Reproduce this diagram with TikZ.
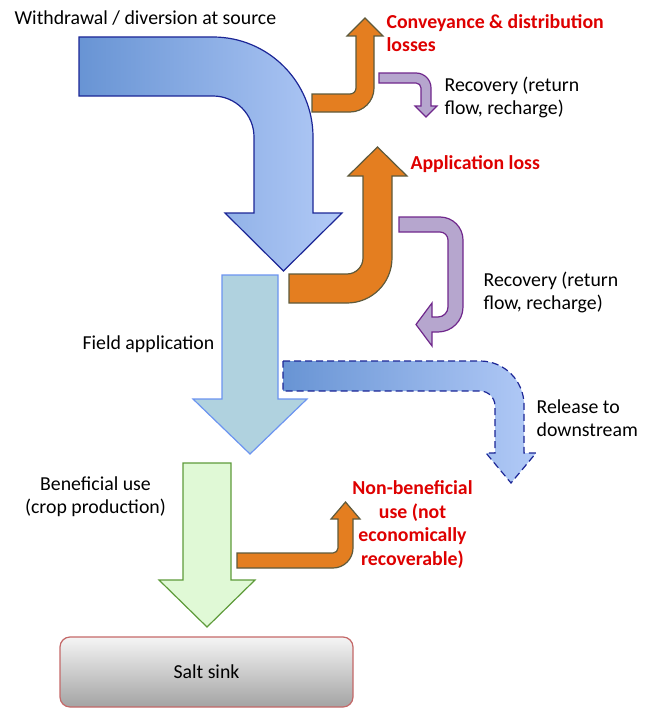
\documentclass[tikz,border=0pt]{standalone}
\usepackage{fontspec}
\setmainfont{Carlito}
\usetikzlibrary{positioning}
\definecolor{bluel}{RGB}{104,148,212}
\definecolor{bluer}{RGB}{178,202,247}
\definecolor{bluedk}{RGB}{28,38,150}
\definecolor{lorange}{RGB}{228,126,32}
\definecolor{dorange}{RGB}{94,90,60}
\definecolor{lpurple}{RGB}{182,166,206}
\definecolor{dpurple}{RGB}{112,40,140}
\definecolor{lteal}{RGB}{176,210,223}
\definecolor{dteal}{RGB}{108,148,240}
\definecolor{lgreen}{RGB}{224,249,214}
\definecolor{dgreen}{RGB}{94,155,58}
\definecolor{lred}{RGB}{222,0,0}
\definecolor{sinkedge}{RGB}{196,104,104}

\begin{document}
\begin{tikzpicture}[x=1pt,y=-1pt,line width=1.2pt,line join=miter]
  \tikzstyle{every node}=[inner sep=0pt,text=black,font=\fontsize{19.8}{23}\selectfont]
  \tikzstyle{loss}=[text=lred,font=\fontsize{19.8}{23.5}\selectfont\bfseries]
  \tikzstyle{bluearr}=[draw=bluedk,left color=bluel,right color=bluer]
  \tikzstyle{orangearr}=[draw=dorange,fill=lorange]
  \tikzstyle{purplearr}=[draw=dpurple,fill=lpurple]
  \useasboundingbox (0,0) rectangle (649,709);

  % withdrawal
  \draw[bluearr] (79,37) -- (213,37) .. controls (268.2,37) and (313,81.8) .. (313,137)
    -- (313,213) -- (342,213) -- (283.5,271) -- (225,213) -- (254,213) -- (254,137)
    .. controls (254,114.4) and (235.6,96) .. (213,96) -- (79,96) -- cycle;
  % conveyance loss + recovery
  \draw[orangearr] (312,94) -- (350,94) .. controls (353.3,94) and (356,91.3) .. (356,88)
    -- (356,36) -- (347,36) -- (365,18) -- (383,36) -- (374,36) -- (374,88)
    .. controls (374,101.3) and (363.3,112) .. (350,112) -- (312,112) -- cycle;
  \draw[purplearr] (379,73) -- (416,73) .. controls (424.3,73) and (431,79.7) .. (431,88)
    -- (431,106) -- (437,106) -- (426,117) -- (415,106) -- (421,106) -- (421,88)
    .. controls (421,85.2) and (418.8,83) .. (416,83) -- (379,83) -- cycle;
  % application loss + recovery
  \draw[orangearr] (289,274) -- (347,274) .. controls (355.8,274) and (363,266.8) .. (363,258)
    -- (363,176) -- (348,176) -- (377.5,147) -- (407,176) -- (392,176) -- (392,258)
    .. controls (392,282.9) and (371.9,303) .. (347,303) -- (289,303) -- cycle;
  \draw[purplearr] (399,217) -- (440,217) .. controls (452.7,217) and (463,227.3) .. (463,240)
    -- (463,307) .. controls (463,320.8) and (451.8,332) .. (438,332) -- (432,332)
    -- (432,346) -- (416,324.5) -- (432,303) -- (432,317) -- (438,317)
    .. controls (443.5,317) and (448,312.5) .. (448,307) -- (448,240)
    .. controls (448,235.6) and (444.4,232) .. (440,232) -- (399,232) -- cycle;
  % field application
  \draw[draw=dteal,fill=lteal] (222,275) -- (278,275) -- (278,399) -- (307,399)
    -- (250,454) -- (193,399) -- (222,399) -- cycle;
  % release downstream
  \draw[bluearr,dash pattern=on 7pt off 4pt] (283,361) -- (480,361) .. controls (504.3,361) and (524,380.7) .. (524,405)
    -- (524,453) -- (536,453) -- (511,483) -- (486,453) -- (495,453) -- (495,406)
    .. controls (495,397.7) and (488.3,391) .. (480,391) -- (283,391) -- cycle;
  % beneficial use
  \draw[draw=dgreen,fill=lgreen] (183,463) -- (231,463) -- (231,580) -- (255,580)
    -- (207,627) -- (159,580) -- (183,580) -- cycle;
  \draw[orangearr] (237,553) -- (333,553) .. controls (335.8,553) and (338,550.8) .. (338,548)
    -- (338,519) -- (331,519) -- (345.5,502) -- (360,519) -- (353,519) -- (353,548)
    .. controls (353,559) and (344,568) .. (333,568) -- (237,568) -- cycle;

  \node[draw=sinkedge,rounded corners=10pt,top color=black!4,bottom color=black!36,
    minimum width=293pt,minimum height=70pt] (sink) at (206.5,672) {Salt sink};

  % multi-line labels: anchor on the last line
  \node[anchor=base west] (source) at (14,25) {Withdrawal / diversion at source};
  \node[loss,anchor=base west,align=left] (convey) at (386,52) {Conveyance \& distribution\\losses};
  \node[anchor=base west,align=left] (recov1) at (444,114) {Recovery (return\\flow, recharge)};
  \node[loss,anchor=base west] (apply) at (410,169) {Application loss};
  \node[anchor=base west,align=left] (recov2) at (483,309) {Recovery (return\\flow, recharge)};
  \node[anchor=base west] (field) at (82,349) {Field application};
  \node[anchor=base west,align=left] (release) at (536,436) {Release to\\downstream};
  \node[anchor=base,align=center] (benef) at (95.5,513) {Beneficial use\\(crop production)};
  \node[loss,anchor=base,align=center] (nonbenef) at (412.5,565) {Non-beneficial\\use (not\\economically\\recoverable)};
\end{tikzpicture}
\end{document}
